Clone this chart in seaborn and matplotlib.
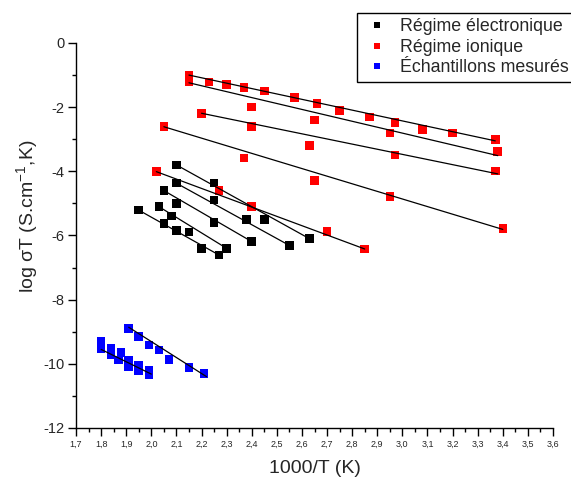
import numpy as np
import pandas as pd
import matplotlib
matplotlib.use("Agg")
import matplotlib.pyplot as plt
import matplotlib.ticker as mticker
import seaborn as sns

# ---- data ----
elec_x = [2.10, 2.25, 2.10, 2.05, 2.25, 2.10, 2.03, 1.95, 2.08, 2.25, 2.05,
          2.10, 2.15, 2.20, 2.27, 2.30, 2.38, 2.45, 2.40, 2.55, 2.63]
elec_y = [-3.80, -4.37, -4.37, -4.60, -4.89, -5.00, -5.10, -5.21, -5.39, -5.60, -5.63,
          -5.85, -5.89, -6.40, -6.61, -6.40, -5.50, -5.50, -6.19, -6.31, -6.10]

ion_x = [2.15, 2.23, 2.30, 2.37, 2.45, 2.57, 2.66, 2.75, 2.87, 2.97, 3.08, 3.20, 3.37,
         2.15, 2.40, 2.65, 2.95, 3.38,
         2.20, 2.40, 2.63, 2.97, 3.37,
         2.05, 2.37, 2.65, 2.95, 3.40,
         2.02, 2.27, 2.40, 2.70, 2.85]
ion_y = [-1.00, -1.21, -1.29, -1.39, -1.50, -1.69, -1.88, -2.10, -2.30, -2.48, -2.69, -2.80, -3.00,
         -1.21, -1.99, -2.40, -2.80, -3.39,
         -2.19, -2.61, -3.19, -3.49, -3.99,
         -2.61, -3.59, -4.29, -4.79, -5.79,
         -4.01, -4.60, -5.10, -5.88, -6.42]

mes_x = [1.80, 1.80, 1.84, 1.84, 1.88, 1.87, 1.91, 1.91, 1.95, 1.95, 1.99, 1.99,
         1.91, 1.95, 1.99, 2.03, 2.07, 2.15, 2.21]
mes_y = [-9.31, -9.52, -9.52, -9.73, -9.65, -9.88, -9.90, -10.09, -10.04, -10.22, -10.20, -10.35,
         -8.89, -9.15, -9.41, -9.57, -9.86, -10.12, -10.30]

# fitted straight lines (start / end)
fit_x0 = [2.10, 2.10, 2.05, 2.03, 1.95, 2.15, 2.15, 2.20, 2.05, 2.02, 1.80, 1.91]
fit_y0 = [-3.80, -4.37, -4.60, -5.10, -5.21, -1.00, -1.24, -2.19, -2.61, -4.01, -9.55, -8.86]
fit_x1 = [2.63, 2.55, 2.40, 2.30, 2.27, 3.37, 3.38, 3.38, 3.40, 2.85, 2.00, 2.22]
fit_y1 = [-6.10, -6.31, -6.19, -6.40, -6.61, -3.05, -3.51, -4.08, -5.81, -6.42, -10.32, -10.40]

labels = ["Régime électronique", "Régime ionique", "Échantillons mesurés"]
colors = ["#000000", "#FF0000", "#0000FF"]

x_ticks = [1.7, 1.8, 1.9, 2.0, 2.1, 2.2, 2.3, 2.4, 2.5, 2.6, 2.7, 2.8, 2.9,
           3.0, 3.1, 3.2, 3.3, 3.4, 3.5, 3.6]
y_ticks = [-12, -10, -8, -6, -4, -2, 0]

# ---- tables ----
pts = pd.DataFrame({
    "x": elec_x + ion_x + mes_x,
    "y": elec_y + ion_y + mes_y,
    "group": [labels[0]] * len(elec_x) + [labels[1]] * len(ion_x) + [labels[2]] * len(mes_x),
})
lines = pd.DataFrame({
    "x": fit_x0 + fit_x1,
    "y": fit_y0 + fit_y1,
    "line": list(range(len(fit_x0))) * 2,
})

# ---- style ----
sns.set_style("ticks")
plt.rcParams["font.family"] = ["Liberation Sans", "DejaVu Sans"]
plt.rcParams["axes.unicode_minus"] = False
plt.rcParams["mathtext.fontset"] = "custom"
plt.rcParams["mathtext.rm"] = "Liberation Sans"
plt.rcParams["mathtext.it"] = "Liberation Sans:italic"
plt.rcParams["mathtext.default"] = "regular"

fig = plt.figure(figsize=(5.71, 4.8), dpi=100)
ax = fig.add_axes([76 / 571, 1 - 428 / 480, 477 / 571, 385 / 480])

sns.scatterplot(data=pts, x="x", y="y", hue="group", hue_order=labels,
                palette=dict(zip(labels, colors)), marker="s", s=38,
                linewidth=0, ax=ax, zorder=2)
sns.lineplot(data=lines, x="x", y="y", units="line", estimator=None,
             color="black", linewidth=0.9, ax=ax, zorder=3, sort=True)

ax.set_xlim(1.7, 3.6)
ax.set_ylim(-12, 0)
ax.xaxis.set_major_locator(mticker.FixedLocator(x_ticks))
ax.xaxis.set_minor_locator(mticker.MultipleLocator(0.05))
ax.xaxis.set_major_formatter(mticker.FuncFormatter(lambda v, p: f"{v:.1f}".replace(".", ",")))
ax.yaxis.set_major_locator(mticker.FixedLocator(y_ticks))
ax.yaxis.set_minor_locator(mticker.MultipleLocator(1))
ax.yaxis.set_major_formatter(mticker.FuncFormatter(lambda v, p: f"{v:.0f}"))

ax.tick_params(axis="x", which="major", length=5.5, width=1.0, labelsize=6.5, pad=3, color="black")
ax.tick_params(axis="x", which="minor", length=3, width=1.0, color="black")
ax.tick_params(axis="y", which="major", length=5.5, width=1.0, labelsize=10.5, pad=3, color="black")
ax.tick_params(axis="y", which="minor", length=3, width=1.0, color="black")

sns.despine(ax=ax)
for s in ["left", "bottom"]:
    ax.spines[s].set_linewidth(1.0)
    ax.spines[s].set_color("black")

ax.set_xlabel("1000/T (K)", fontsize=14, labelpad=8)
ax.set_ylabel("log σT (S.cm$^{-1}$,K)", fontsize=14)
ax.yaxis.set_label_coords(-0.075, 0.55)

handles, labs = ax.get_legend_handles_labels()
ax.legend(handles[:3], labs[:3], loc="upper left",
          bbox_to_anchor=(357 / 571, 1 - 13 / 480), bbox_transform=fig.transFigure,
          fontsize=12.8, frameon=True, fancybox=False, edgecolor="black",
          framealpha=1, borderpad=0.3, handlelength=1.65, handletextpad=0.45,
          labelspacing=0.2, markerscale=0.6, borderaxespad=0)
ax.get_legend().get_frame().set_linewidth(1.0)

fig.savefig("out.png", dpi=100)
